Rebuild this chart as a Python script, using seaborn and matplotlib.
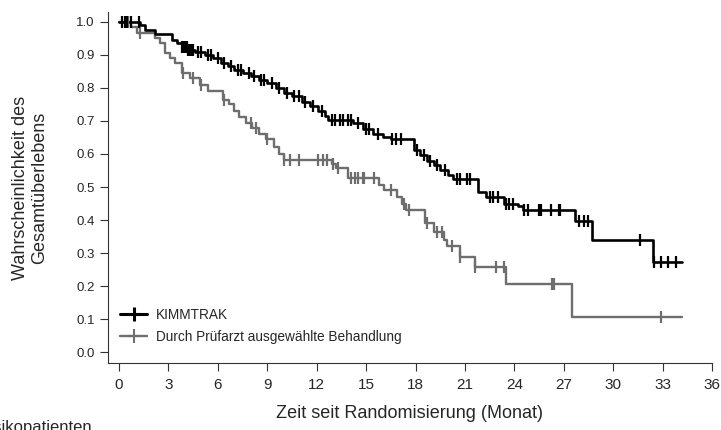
import numpy as np
import pandas as pd
import matplotlib
matplotlib.use("Agg")
import matplotlib.pyplot as plt
import seaborn as sns
from matplotlib.lines import Line2D

groups = ["KIMMTRAK", "Durch Prüfarzt ausgewählte Behandlung"]
colors = {"KIMMTRAK": "#000000", "Durch Prüfarzt ausgewählte Behandlung": "#6e6e6e"}
t_end = 34.2

# KIMMTRAK: step times (months) and survival after each step
kim_t = [0, 1.3, 1.6, 2.2, 3.2, 3.5, 3.8, 4.2, 4.6, 5.2, 5.7, 6.2, 6.6, 7.0, 7.5, 8.0,
         8.5, 9.0, 9.5, 10.0, 10.5, 11.1, 11.6, 12.1, 12.5, 12.7, 14.2, 14.8, 15.4,
         16.0, 16.5, 17.9, 18.3, 18.7, 19.1, 19.5, 20.0, 20.3, 21.8, 22.3, 23.4,
         24.2, 24.5, 27.7, 28.7, 32.4]
kim_s = [1.0, 0.99, 0.975, 0.963, 0.945, 0.935, 0.925, 0.915, 0.91, 0.9, 0.89, 0.876,
         0.866, 0.855, 0.845, 0.835, 0.825, 0.815, 0.80, 0.785, 0.775, 0.757, 0.745,
         0.73, 0.715, 0.703, 0.693, 0.675, 0.662, 0.652, 0.645, 0.612, 0.597, 0.58,
         0.567, 0.55, 0.537, 0.525, 0.485, 0.47, 0.45, 0.443, 0.43, 0.397, 0.34, 0.273]
kim_cens = [0.2, 0.35, 0.5, 0.7, 1.2, 3.8, 3.9, 4.0, 4.1, 4.2, 4.3, 4.4, 4.5, 4.8, 5.0,
            5.4, 5.6, 6.0, 6.4, 6.8, 7.2, 7.4, 7.9, 8.2, 8.6, 8.8, 9.3, 9.7, 10.2, 10.6,
            10.9, 11.3, 11.8, 12.3, 12.9, 13.1, 13.4, 13.6, 13.9, 14.1, 14.5, 15.0,
            15.2, 15.7, 16.6, 16.8, 17.1, 18.1, 18.5, 18.9, 19.3, 19.8, 20.5, 20.7,
            21.1, 21.3, 22.5, 22.7, 23.0, 23.5, 23.7, 23.9, 24.6, 24.8, 25.5, 25.6,
            26.2, 26.7, 26.8, 27.9, 28.2, 28.5, 31.6, 32.5, 32.9, 33.3, 33.8]

# Durch Prüfarzt ausgewählte Behandlung
inv_t = [0, 0.7, 1.1, 2.2, 2.5, 2.8, 3.1, 3.4, 3.8, 4.3, 4.9, 5.4, 6.3, 6.7, 7.0, 7.3,
         7.7, 8.1, 8.5, 8.9, 9.4, 9.7, 10.0, 12.9, 13.2, 13.9, 15.8, 16.1, 16.9, 17.2,
         17.4, 18.6, 19.1, 19.7, 19.9, 20.7, 21.6, 23.5, 27.5]
inv_s = [1.0, 0.985, 0.965, 0.952, 0.935, 0.905, 0.89, 0.875, 0.845, 0.83, 0.81, 0.79,
         0.765, 0.75, 0.73, 0.712, 0.695, 0.68, 0.66, 0.645, 0.62, 0.6, 0.582, 0.57,
         0.557, 0.527, 0.506, 0.49, 0.47, 0.45, 0.43, 0.39, 0.364, 0.34, 0.32, 0.288,
         0.258, 0.206, 0.106]
inv_cens = [0.4, 0.55, 1.3, 3.9, 4.5, 5.0, 6.4, 8.0, 8.3, 9.0, 10.0, 10.4, 10.9, 12.1,
            12.4, 12.6, 13.0, 13.3, 14.1, 14.3, 14.5, 14.8, 14.9, 15.5, 16.5, 17.3,
            17.6, 18.7, 19.3, 19.6, 20.2, 20.7, 21.6, 22.9, 23.4, 26.3, 26.4, 32.9]

x_ticks = list(range(0, 37, 3))
y_ticks = [0.0, 0.1, 0.2, 0.3, 0.4, 0.5, 0.6, 0.7, 0.8, 0.9, 1.0]

sns.set_style("ticks")
plt.rcParams["font.family"] = ["Liberation Sans", "DejaVu Sans"]

curves = []
cens = []
for g, tt, ss, cc in [(groups[0], kim_t, kim_s, kim_cens), (groups[1], inv_t, inv_s, inv_cens)]:
    tt2 = list(tt) + [t_end]
    ss2 = list(ss) + [ss[-1]]
    curves.append(pd.DataFrame({"t": tt2, "s": ss2, "group": g}))
    idx = np.searchsorted(np.array(tt), np.array(cc), side="right") - 1
    cens.append(pd.DataFrame({"t": cc, "s": np.array(ss)[idx], "group": g}))
curves = pd.concat(curves, ignore_index=True)
cens = pd.concat(cens, ignore_index=True)

fig = plt.figure(figsize=(7.21, 4.30), dpi=100)
ax = fig.add_axes([108 / 721, 1 - 363 / 430, 604 / 721, 351 / 430])

for g, lw in [(groups[1], 1.7), (groups[0], 1.9)]:
    sub = curves[curves["group"] == g]
    sns.lineplot(data=sub, x="t", y="s", ax=ax, color=colors[g], lw=lw,
                 drawstyle="steps-post", estimator=None, sort=False, legend=False)
    csub = cens[cens["group"] == g]
    sns.scatterplot(data=csub, x="t", y="s", ax=ax, color=colors[g], marker="|",
                    s=80, linewidth=1.6, legend=False, zorder=3)

ax.set_xlim(-0.67, 36)
ax.set_ylim(-0.033, 1.03)
ax.set_xticks(x_ticks)
ax.set_xticklabels([str(v) for v in x_ticks], fontsize=11,
                   family=["Liberation Sans Narrow", "Liberation Sans"])
ax.set_yticks(y_ticks)
ax.set_yticklabels([f"{v:.1f}" for v in y_ticks], fontsize=9.5)
ax.tick_params(axis="both", direction="out", length=6, width=0.8, color="#333333")
ax.tick_params(axis="x", pad=5)
for sp in ["top", "right"]:
    ax.spines[sp].set_visible(False)
for sp in ["left", "bottom"]:
    ax.spines[sp].set_linewidth(0.8)
    ax.spines[sp].set_color("#333333")

ax.set_xlabel("Zeit seit Randomisierung (Monat)", fontsize=13, labelpad=9)
ax.set_ylabel("Wahrscheinlichkeit des\nGesamtüberlebens", fontsize=13, labelpad=20)

handles = [Line2D([0], [0], color=colors[g], lw=2.2 if i == 0 else 1.7, marker="+",
                  markersize=10, markeredgewidth=2.2 if i == 0 else 1.5)
           for i, g in enumerate(groups)]
ax.legend(handles, groups, loc="lower left", bbox_to_anchor=(0.0, 0.02), frameon=False,
          fontsize=9.8, handlelength=2.0, handletextpad=0.6, labelspacing=0.6)

fig.text(92 / 721, 1 - 420 / 430, "Anzahl der Risikopatienten", ha="right", va="top", fontsize=12)

fig.savefig("out.png", dpi=100)
